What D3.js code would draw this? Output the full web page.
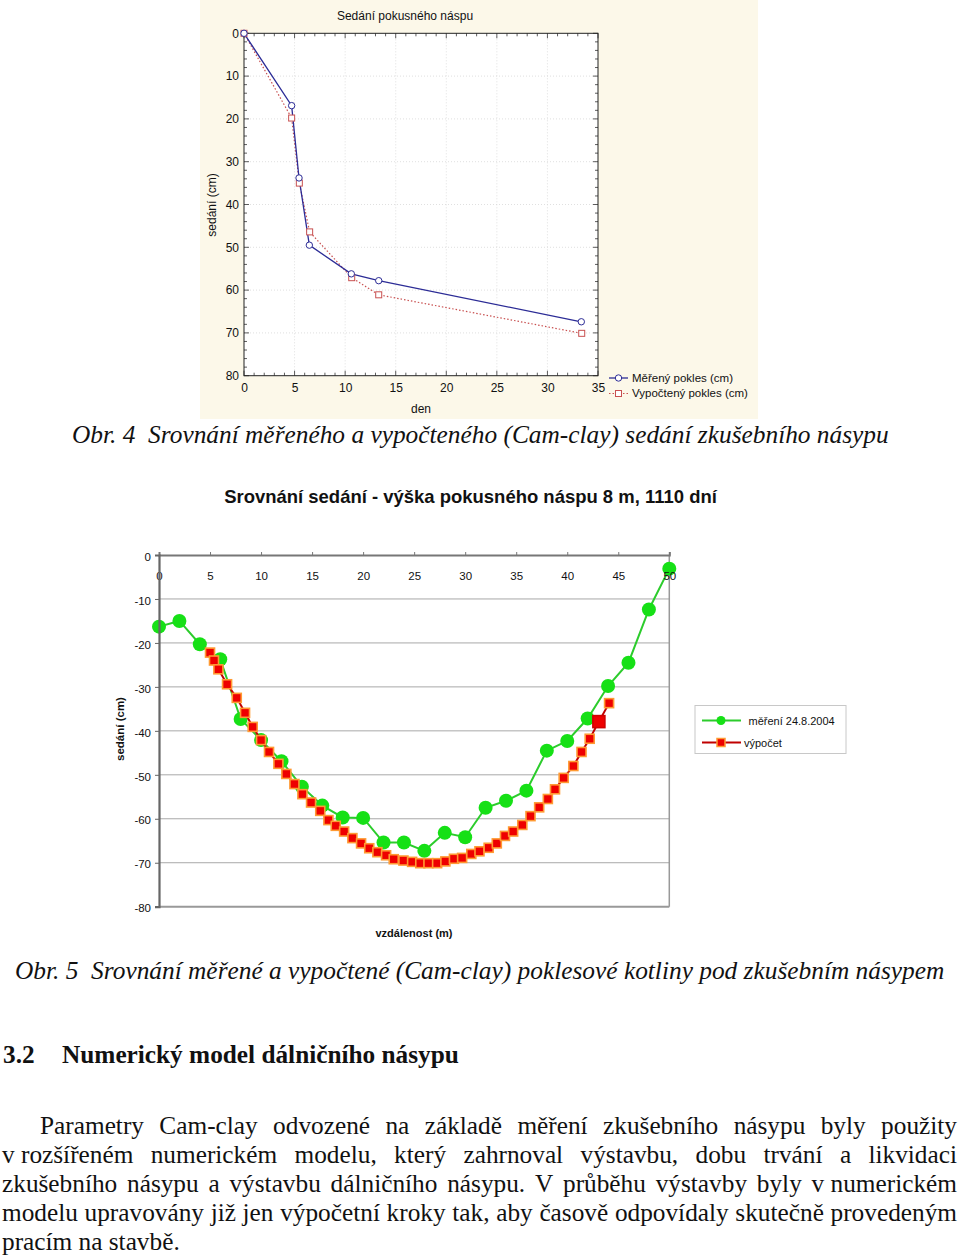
<!DOCTYPE html>
<html><head><meta charset="utf-8">
<script src="https://cdn.jsdelivr.net/npm/d3@7"></script>
<style>
html,body{margin:0;padding:0;background:#fff;}
svg{display:block;}
</style></head>
<body>
<svg id="page" width="960" height="1256"></svg>
<script>
// ---------- DATA ----------
// Chart 1 (Obr. 4)
const topTitle = "Sedání pokusného náspu";
const dayMeasured   = [0, 4.71, 5.44, 6.46, 10.61, 13.32, 33.35];
const settleMeasured= [0, 16.9, 33.8, 49.5, 56.2, 57.8, 67.4];
const dayComputed   = [0, 4.71, 5.47, 6.49, 10.65, 13.32, 33.39];
const settleComputed= [0, 19.8, 35.0, 46.4, 57.1, 61.1, 70.1];
const topXTicks = [0,5,10,15,20,25,30,35];
const topYTicks = [0,10,20,30,40,50,60,70,80];
const topLegend = ["Měřený pokles (cm)", "Vypočtený pokles (cm)"];

// Chart 2 (Obr. 5)
const botTitle = "Srovnání sedání - výška pokusného náspu 8 m, 1110 dní";
const distMeasured = [0,2,4,6,8,10,12,14,16,18,20,22,24,26,28,30,32,34,36,38,40,42,44,46,48,50];
const sedMeasured  = [-16.3,-15.0,-20.3,-23.7,-37.3,-42.1,-46.9,-52.7,-57.0,-59.7,-59.8,-65.4,-65.4,-67.3,-63.2,-64.2,-57.5,-55.9,-53.6,-44.5,-42.3,-37.2,-29.8,-24.5,-12.4,-3.1];
const distComputed = [5.0,5.39,5.82,6.67,7.62,8.43,9.18,10.0,10.78,11.7,12.48,13.27,14.05,14.9,15.8,16.6,17.32,18.14,18.95,19.8,20.6,21.4,22.25,23.0,23.95,24.8,25.6,26.4,27.25,28.06,28.9,29.7,30.6,31.4,32.3,33.1,33.9,34.7,35.6,36.4,37.25,38.1,38.8,39.65,40.6,41.4,42.2,43.1,44.1];
const sedComputed  = [-22.2,-24.0,-26.0,-29.4,-32.5,-35.9,-39.1,-42.1,-44.8,-47.5,-49.8,-52.1,-54.4,-56.3,-58.2,-60.3,-61.6,-62.9,-64.4,-65.6,-66.7,-67.6,-68.3,-69.2,-69.5,-69.8,-70.1,-70.1,-70.1,-69.7,-69.1,-68.9,-68.0,-67.4,-66.6,-65.6,-63.9,-62.9,-61.4,-59.4,-57.4,-55.5,-53.3,-50.7,-48.0,-44.8,-41.8,-37.9,-33.7];
const highlightIndex = 47;
const botXTicks = [0,5,10,15,20,25,30,35,40,45,50];
const botYTicks = [0,-10,-20,-30,-40,-50,-60,-70,-80];
const botLegend = ["měření 24.8.2004", "výpočet"];

// Document text
const caption4 = "Obr. 4  Srovnání měřeného a vypočteného (Cam-clay) sedání zkušebního násypu";
const caption5 = "Obr. 5  Srovnání měřené a vypočtené (Cam-clay) poklesové kotliny pod zkušebním násypem";
const headingNum = "3.2";
const headingText = "Numerický model dálničního násypu";
const paraLines = [
  "Parametry Cam-clay odvozené na základě měření zkušebního násypu byly použity",
  "v\u00a0rozšířeném numerickém modelu, který zahrnoval výstavbu, dobu trvání a likvidaci",
  "zkušebního násypu a výstavbu dálničního násypu. V průběhu výstavby byly v\u00a0numerickém",
  "modelu upravovány již jen výpočetní kroky tak, aby časově odpovídaly skutečně provedeným",
  "pracím na stavbě."
];

// ---------- DRAW ----------
const svg = d3.select("#page");
const SANS = "Arial, 'Liberation Sans', sans-serif";
const SERIF = "'Times New Roman', 'Liberation Serif', serif";

// ===== Chart 1 =====
svg.append("rect").attr("x",200).attr("y",0).attr("width",558).attr("height",419).attr("fill","#fcf8e9");
const xT = d3.scaleLinear().domain([0,35]).range([244,598]);
const yT = d3.scaleLinear().domain([0,80]).range([33.3,375.7]);
const g1 = svg.append("g");
g1.append("rect").attr("x",xT(0)).attr("y",yT(0)).attr("width",xT(35)-xT(0)).attr("height",yT(80)-yT(0)).attr("fill","#fff");
// grid
g1.selectAll(".gx").data(topXTicks.slice(1,-1)).enter().append("line")
  .attr("x1",d=>xT(d)).attr("x2",d=>xT(d)).attr("y1",yT(0)).attr("y2",yT(80))
  .attr("stroke","#d8d8d8").attr("stroke-width",0.8).attr("stroke-dasharray","1,2");
g1.selectAll(".gy").data(topYTicks.slice(1,-1)).enter().append("line")
  .attr("y1",d=>yT(d)).attr("y2",d=>yT(d)).attr("x1",xT(0)).attr("x2",xT(35))
  .attr("stroke","#d8d8d8").attr("stroke-width",0.8).attr("stroke-dasharray","1,2");
// minor inner ticks
const minorX = d3.range(0,36,1), minorY = d3.range(0,81,2);
minorX.forEach(v=>{
  const L = v%5===0?5:3;
  g1.append("line").attr("x1",xT(v)).attr("x2",xT(v)).attr("y1",yT(80)).attr("y2",yT(80)-L).attr("stroke","#333").attr("stroke-width",0.8);
  g1.append("line").attr("x1",xT(v)).attr("x2",xT(v)).attr("y1",yT(0)).attr("y2",yT(0)+L).attr("stroke","#333").attr("stroke-width",0.8);
});
minorY.forEach(v=>{
  const L = v%10===0?5:3;
  g1.append("line").attr("y1",yT(v)).attr("y2",yT(v)).attr("x1",xT(0)).attr("x2",xT(0)+L).attr("stroke","#333").attr("stroke-width",0.8);
  g1.append("line").attr("y1",yT(v)).attr("y2",yT(v)).attr("x1",xT(35)).attr("x2",xT(35)-L).attr("stroke","#333").attr("stroke-width",0.8);
});
g1.append("rect").attr("x",xT(0)).attr("y",yT(0)).attr("width",xT(35)-xT(0)).attr("height",yT(80)-yT(0)).attr("fill","none").attr("stroke","#222").attr("stroke-width",1);
// axes labels via d3 axis
const ax1 = g1.append("g").attr("transform",`translate(0,${yT(80)})`).call(d3.axisBottom(xT).tickValues(topXTicks).tickFormat(d=>String(d)).tickSize(0).tickPadding(8));
const ay1 = g1.append("g").attr("transform",`translate(${xT(0)},0)`).call(d3.axisLeft(yT).tickValues(topYTicks).tickFormat(d=>String(d)).tickSize(0).tickPadding(5));
[ax1,ay1].forEach(a=>{a.select(".domain").remove(); a.selectAll("text").attr("font-family",SANS).attr("font-size",12).attr("fill","#111");});
g1.append("text").attr("x",405).attr("y",20).attr("text-anchor","middle").attr("font-family",SANS).attr("font-size",12).attr("fill","#111").text(topTitle);
g1.append("text").attr("x",421).attr("y",413).attr("text-anchor","middle").attr("font-family",SANS).attr("font-size",12).attr("fill","#111").text("den");
g1.append("text").attr("transform","translate(216,205) rotate(-90)").attr("text-anchor","middle").attr("font-family",SANS).attr("font-size",12).attr("fill","#111").text("sedání (cm)");
// series
const mData = dayMeasured.map((d,i)=>[d,settleMeasured[i]]);
const cData = dayComputed.map((d,i)=>[d,settleComputed[i]]);
const lineT = d3.line().x(d=>xT(d[0])).y(d=>yT(d[1]));
const blue = "#2c2c96", pink = "#c85050";
g1.append("path").datum(cData).attr("d",lineT).attr("fill","none").attr("stroke",pink).attr("stroke-width",1.2).attr("stroke-dasharray","1.5,2");
g1.append("path").datum(mData).attr("d",lineT).attr("fill","none").attr("stroke",blue).attr("stroke-width",1.3);
g1.selectAll(".cs").data(cData).enter().append("rect").attr("x",d=>xT(d[0])-3).attr("y",d=>yT(d[1])-3).attr("width",6).attr("height",6).attr("fill","#fff").attr("stroke",pink).attr("stroke-width",1);
g1.selectAll(".mc").data(mData).enter().append("circle").attr("cx",d=>xT(d[0])).attr("cy",d=>yT(d[1])).attr("r",3.2).attr("fill","#fff").attr("stroke",blue).attr("stroke-width",1);
// legend
g1.append("line").attr("x1",609).attr("x2",628).attr("y1",378).attr("y2",378).attr("stroke",blue).attr("stroke-width",1.3);
g1.append("circle").attr("cx",618.5).attr("cy",378).attr("r",3.2).attr("fill","#fff").attr("stroke",blue);
g1.append("line").attr("x1",609).attr("x2",628).attr("y1",393.5).attr("y2",393.5).attr("stroke",pink).attr("stroke-width",1.2).attr("stroke-dasharray","1.5,2");
g1.append("rect").attr("x",615.5).attr("y",390.5).attr("width",6).attr("height",6).attr("fill","#fff").attr("stroke",pink);
topLegend.forEach((t,i)=>g1.append("text").attr("x",632).attr("y",382+i*15.3).attr("font-family",SANS).attr("font-size",11.5).attr("fill","#111").text(t));

// ===== Captions / doc text helpers =====
function fitText(sel, target, base){
  const w = sel.node().getComputedTextLength();
  sel.attr("font-size", base*target/w);
}
const c4 = svg.append("text").attr("x",72).attr("y",443).attr("font-family",SERIF).attr("font-style","italic").attr("font-size",25).attr("fill","#111").style("white-space","pre").text(caption4);
fitText(c4, 817, 25);
const c5 = svg.append("text").attr("x",15).attr("y",979).attr("font-family",SERIF).attr("font-style","italic").attr("font-size",25).attr("fill","#111").style("white-space","pre").text(caption5);
fitText(c5, 930, 25);

// ===== Chart 2 =====
const xB = d3.scaleLinear().domain([0,50]).range([159,669.3]);
const yB = d3.scaleLinear().domain([0,-80]).range([555,906.7]);
const g2 = svg.append("g");
const bt = g2.append("text").attr("x",470.5).attr("y",503).attr("text-anchor","middle").attr("font-family",SANS).attr("font-weight","bold").attr("font-size",17).attr("fill","#111").text(botTitle);
fitText(bt, 493, 17);
// grid
g2.selectAll(".gb").data(botYTicks.slice(1,-1)).enter().append("line")
  .attr("x1",xB(0)).attr("x2",xB(50)).attr("y1",d=>yB(d)).attr("y2",d=>yB(d)).attr("stroke","#a8a8a8").attr("stroke-width",1);
// frame
g2.append("line").attr("x1",xB(50)).attr("x2",xB(50)).attr("y1",yB(0)).attr("y2",yB(-80)).attr("stroke","#999").attr("stroke-width",1.5);
g2.append("line").attr("x1",xB(0)).attr("x2",xB(50)).attr("y1",yB(-80)).attr("y2",yB(-80)).attr("stroke","#999").attr("stroke-width",2);
// series
const green = "#16e016", greenLine = "#2ccc2c", red = "#ee0000", redLine = "#c00000", orange = "#ff9a33";
const gData = distMeasured.map((d,i)=>[d,sedMeasured[i]]);
const rData = distComputed.map((d,i)=>[d,sedComputed[i]]);
const lineB = d3.line().x(d=>xB(d[0])).y(d=>yB(d[1]));
g2.append("path").datum(gData).attr("d",lineB).attr("fill","none").attr("stroke",greenLine).attr("stroke-width",2);
g2.selectAll(".gc").data(gData).enter().append("circle").attr("cx",d=>xB(d[0])).attr("cy",d=>yB(d[1])).attr("r",7).attr("fill",green);
g2.append("path").datum(rData).attr("d",lineB).attr("fill","none").attr("stroke",redLine).attr("stroke-width",2);
g2.selectAll(".rs").data(rData).enter().append("rect")
  .attr("x",(d,i)=>xB(d[0])-(i===highlightIndex?6:4.5)).attr("y",(d,i)=>yB(d[1])-(i===highlightIndex?6:4.5))
  .attr("width",(d,i)=>i===highlightIndex?12:9).attr("height",(d,i)=>i===highlightIndex?12:9)
  .attr("fill",red).attr("stroke",(d,i)=>i===highlightIndex?"#d00000":orange).attr("stroke-width",1.6);
// axes (drawn on top of the series)
const axB = g2.append("g").attr("transform",`translate(0,${yB(0)})`).call(d3.axisTop(xB).tickValues(botXTicks).tickFormat(d=>String(d)).tickSize(3).tickPadding(-28));
axB.select(".domain").attr("stroke","#777").attr("stroke-width",2);
axB.selectAll(".tick line").attr("stroke","#777");
const ayB = g2.append("g").attr("transform",`translate(${xB(0)},0)`).call(d3.axisLeft(yB).tickValues(botYTicks).tickFormat(d=>String(d)).tickSize(4).tickPadding(4));
ayB.select(".domain").attr("stroke","#666").attr("stroke-width",2.2);
ayB.selectAll(".tick line").attr("stroke","#666");
[axB,ayB].forEach(a=>a.selectAll("text").attr("font-family",SANS).attr("font-size",11.5).attr("fill","#111"));
ayB.selectAll("text").attr("dy","0.45em");
g2.append("text").attr("x",414).attr("y",937).attr("text-anchor","middle").attr("font-family",SANS).attr("font-weight","bold").attr("font-size",11).attr("fill","#111").text("vzdálenost (m)");
g2.append("text").attr("transform","translate(124,729) rotate(-90)").attr("text-anchor","middle").attr("font-family",SANS).attr("font-weight","bold").attr("font-size",11.5).attr("fill","#111").text("sedání (cm)");
// legend
g2.append("rect").attr("x",695).attr("y",705.5).attr("width",151).attr("height",48).attr("fill","#fff").attr("stroke","#c8c8c8").attr("stroke-width",1);
g2.append("line").attr("x1",702).attr("x2",741).attr("y1",720.5).attr("y2",720.5).attr("stroke",greenLine).attr("stroke-width",2);
g2.append("circle").attr("cx",721).attr("cy",720.5).attr("r",4.5).attr("fill",green);
g2.append("line").attr("x1",702).attr("x2",741).attr("y1",742.5).attr("y2",742.5).attr("stroke",redLine).attr("stroke-width",2);
g2.append("rect").attr("x",717).attr("y",738.5).attr("width",8).attr("height",8).attr("fill",red).attr("stroke",orange).attr("stroke-width",1.5);
g2.append("text").attr("x",748.5).attr("y",725).attr("font-family",SANS).attr("font-size",11).attr("fill","#111").text(botLegend[0]);
g2.append("text").attr("x",744).attr("y",747).attr("font-family",SANS).attr("font-size",11).attr("fill","#111").text(botLegend[1]);

// ===== Heading + paragraph =====
const hn = svg.append("text").attr("x",3).attr("y",1063).attr("font-family",SERIF).attr("font-weight","bold").attr("font-size",25).attr("fill","#111").text(headingNum);
const ht = svg.append("text").attr("x",62).attr("y",1063).attr("font-family",SERIF).attr("font-weight","bold").attr("font-size",25).attr("fill","#111").text(headingText);
fitText(ht, 397, 25);
hn.attr("font-size", ht.attr("font-size"));

const paraSize = 25.3;
const lineY = [1134,1163,1192,1221,1250];
paraLines.forEach((ln,i)=>{
  const x0 = i===0?40:2, x1 = 957;
  const words = ln.split(" ");
  const justify = i < paraLines.length-1;
  const els = words.map(w=>svg.append("text").attr("y",lineY[i]).attr("font-family",SERIF).attr("font-size",paraSize).attr("fill","#111").text(w));
  const widths = els.map(e=>e.node().getComputedTextLength());
  const sum = d3.sum(widths);
  const gap = justify ? (x1-x0-sum)/(words.length-1) : paraSize*0.25;
  let x = x0;
  els.forEach((e,k)=>{ e.attr("x",x); x += widths[k]+gap; });
});
</script>
</body></html>
